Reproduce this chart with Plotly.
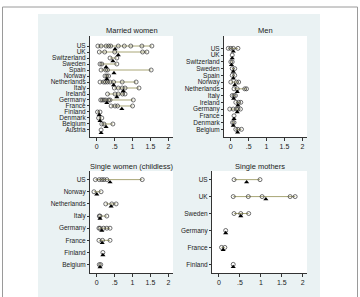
import plotly.graph_objects as go

# ---------------- data ----------------
mw_countries = ["US", "UK", "Switzerland", "Sweden", "Spain", "Norway", "Netherlands",
                "Italy", "Ireland", "Germany", "France", "Finland", "Denmark", "Belgium", "Austria"]
mw_estimates = [
    [0.03, 0.12, 0.26, 0.33, 0.39, 0.60, 0.77, 0.95, 1.26, 1.54],
    [0.07, 0.22, 0.50, 1.28, 1.40],
    [0.37, 0.56],
    [0.09, 0.14, 0.56],
    [0.12, 0.25, 0.30, 1.52],
    [0.23, 0.28, 0.33],
    [0.09, 0.19, 0.24, 0.30, 0.37, 0.47, 0.71, 1.10],
    [0.49, 0.60, 0.71, 0.79, 1.18],
    [0.30, 0.51, 0.60, 0.72, 0.79],
    [0.11, 0.15, 0.20, 0.25, 0.33, 0.37, 1.02],
    [0.40, 0.51, 0.58, 1.00],
    [0.02, 0.09],
    [0.05, 0.14],
    [0.14, 0.20, 0.45],
    [0.12],
]
mw_means = [0.51, 0.60, 0.45, 0.26, 0.48, 0.28, 0.47, 0.74, 0.56, 0.28, 0.70, 0.07, 0.09, 0.26, 0.12]

men_countries = ["US", "UK", "Switzerland", "Sweden", "Spain", "Norway", "Netherlands",
                 "Italy", "Ireland", "Germany", "France", "Denmark", "Belgium"]
men_estimates = [
    [-0.07, 0.00, 0.07, 0.20],
    [0.04],
    [0.00, 0.04],
    [0.04, 0.11],
    [0.04, 0.11],
    [0.00, 0.16, 0.22],
    [0.09, 0.18, 0.39, 0.44],
    [0.04, 0.09, 0.13],
    [0.14, 0.22, 0.28],
    [-0.03, 0.07, 0.16, 0.20, 0.27],
    [0.09],
    [0.05, 0.09],
    [0.14, 0.20, 0.30],
]
men_means = [0.07, 0.04, 0.02, 0.07, 0.07, 0.11, 0.18, 0.08, 0.20, 0.18, 0.09, 0.07, 0.19]

sw_countries = ["US", "Norway", "Netherlands", "Italy", "Germany", "France", "Finland", "Belgium"]
sw_estimates = [
    [-0.04, 0.07, 0.14, 0.20, 0.28, 1.27],
    [-0.08, 0.12],
    [0.25, 0.42, 0.54],
    [0.07, 0.09, 0.28],
    [0.06, 0.09, 0.19, 0.28, 0.37],
    [0.06, 0.16, 0.37],
    [0.17],
    [0.07, 0.11],
]
sw_means = [0.37, 0.00, 0.40, 0.09, 0.14, 0.15, 0.17, 0.09]

sm_countries = ["US", "UK", "Sweden", "Germany", "France", "Finland"]
sm_estimates = [
    [0.36, 0.98],
    [0.34, 0.70, 1.03, 1.70, 1.82],
    [0.36, 0.52, 0.71],
    [0.16],
    [0.06, 0.14],
    [0.34],
]
sm_means = [0.66, 1.12, 0.52, 0.16, 0.10, 0.34]

x_ticks = [0, 0.5, 1, 1.5, 2]
x_ticktext = ["0", ".5", "1", "1.5", "2"]

# ---------------- layout helpers ----------------
W, H = 360, 297
FONT = "Liberation Sans, Arial, sans-serif"
LINE_COL = "#a9a676"


def xdom(a, b):
    return [a / W, b / W]


def ydom(top, bottom):
    return [1 - bottom / H, 1 - top / H]


panels = [
    dict(title="Married women", c=mw_countries, e=mw_estimates, m=mw_means,
         xd=(90, 173), yd=(36, 137), xr=[-0.19, 2.13], yr=[15.17, -1.67], off=0.5),
    dict(title="Men", c=men_countries, e=men_estimates, m=men_means,
         xd=(224, 307), yd=(36, 137), xr=[-0.19, 2.13], yr=[13.14, -1.83], off=0.45),
    dict(title="Single women (childless)", c=sw_countries, e=sw_estimates, m=sw_means,
         xd=(90, 173), yd=(171, 273), xr=[-0.19, 2.13], yr=[7.69, -0.71], off=0.21),
    dict(title="Single mothers", c=sm_countries, e=sm_estimates, m=sm_means,
         xd=(212, 307), yd=(171, 273), xr=[-0.167, 2.103], yr=[5.51, -0.51], off=0.15),
]

fig = go.Figure()
shapes = [
    dict(type="rect", xref="paper", yref="paper", x0=38 / W, x1=320 / W, y0=-0.1, y1=1 - 14 / H,
         fillcolor="#eaf2f3", line=dict(width=0), layer="below"),
    dict(type="rect", xref="paper", yref="paper", x0=2.5 / W, x1=357.5 / W, y0=-0.1, y1=1 - 7 / H,
         fillcolor="rgba(0,0,0,0)", line=dict(color="#9a9a9a", width=1), layer="below"),
]
annotations = []
layout_axes = {}

for i, p in enumerate(panels):
    sfx = "" if i == 0 else str(i + 1)
    xa, ya = "x" + sfx, "y" + sfx
    # white plot region
    shapes.append(dict(type="rect", xref="paper", yref="paper",
                       x0=p["xd"][0] / W, x1=p["xd"][1] / W,
                       y0=1 - p["yd"][1] / H, y1=1 - p["yd"][0] / H,
                       fillcolor="white", line=dict(width=0), layer="below"))
    lx, ly, cx, cy = [], [], [], []
    for j, vals in enumerate(p["e"]):
        sv = sorted(vals)
        lx += sv + [None]
        ly += [j] * len(sv) + [None]
        cx += sv
        cy += [j] * len(sv)
    fig.add_trace(go.Scatter(x=lx, y=ly, mode="lines", line=dict(color=LINE_COL, width=1),
                             xaxis=xa, yaxis=ya, showlegend=False, hoverinfo="skip"))
    fig.add_trace(go.Scatter(x=cx, y=cy, mode="markers",
                             marker=dict(symbol="circle-open", size=4, color="#333",
                                         line=dict(width=0.7, color="#333")),
                             xaxis=xa, yaxis=ya, showlegend=False))
    fig.add_trace(go.Scatter(x=p["m"], y=[j + p["off"] for j in range(len(p["m"]))], mode="markers",
                             marker=dict(symbol="triangle-up", size=4.5, color="black"),
                             xaxis=xa, yaxis=ya, showlegend=False))
    layout_axes["xaxis" + sfx] = dict(
        domain=xdom(*p["xd"]), range=p["xr"], anchor=ya, tickvals=x_ticks, ticktext=x_ticktext,
        showgrid=False, zeroline=False, showline=True, linecolor="#333", linewidth=1,
        ticks="outside", ticklen=3, tickwidth=1, tickcolor="#333",
        tickfont=dict(size=7, color="#222", family=FONT))
    layout_axes["yaxis" + sfx] = dict(
        domain=ydom(*p["yd"]), range=p["yr"], anchor=xa, tickvals=list(range(len(p["c"]))),
        ticktext=p["c"], showgrid=False, zeroline=False, showline=True, linecolor="#333",
        linewidth=1, ticks="outside", ticklen=2, tickwidth=1, tickcolor="#333",
        tickfont=dict(size=6.5, color="#222", family=FONT))
    annotations.append(dict(text=p["title"], xref="paper", yref="paper",
                            x=(p["xd"][0] + p["xd"][1]) / 2 / W, y=1 - (p["yd"][0] - 5) / H,
                            xanchor="center", yanchor="middle", showarrow=False,
                            font=dict(size=7.5, color="#222", family=FONT)))

fig.update_layout(
    width=W, height=H, margin=dict(l=0, r=0, t=0, b=0),
    paper_bgcolor="white", plot_bgcolor="rgba(0,0,0,0)",
    shapes=shapes, annotations=annotations, showlegend=False,
    **layout_axes,
)

fig.write_html("out.html")
